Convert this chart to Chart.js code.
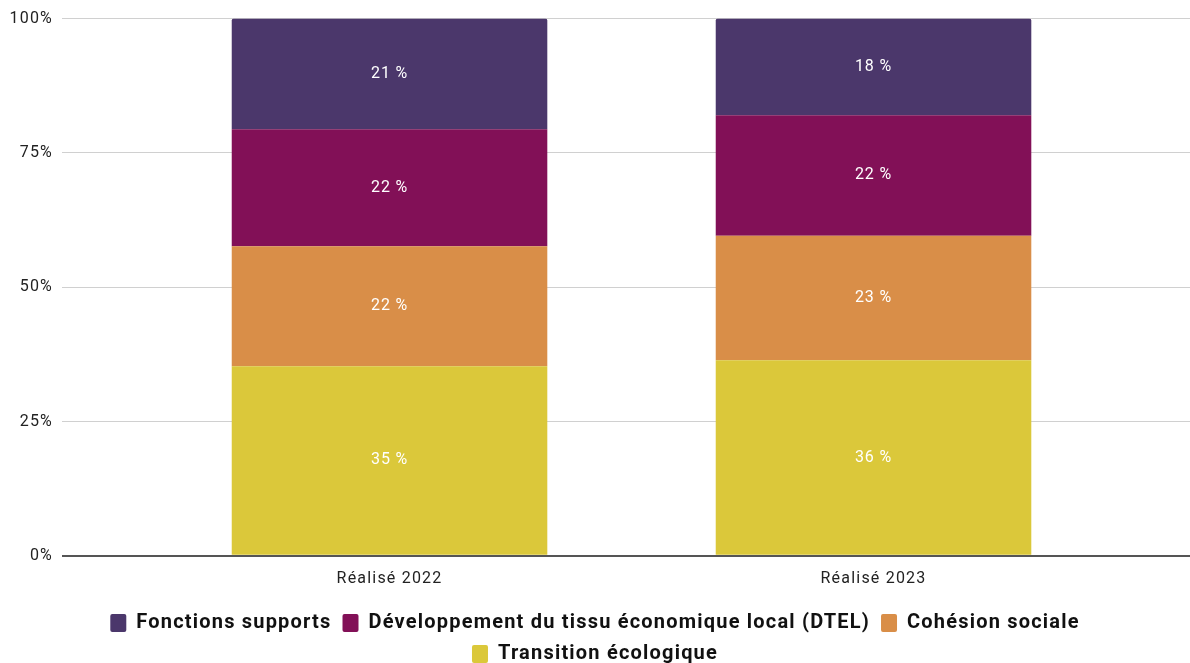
<!DOCTYPE html>
<html lang="fr">
<head>
<meta charset="utf-8">
<title>Répartition par axe – Réalisé 2022 / 2023</title>
<script src="https://cdn.jsdelivr.net/npm/chart.js@4.4.1/dist/chart.umd.min.js"></script>
<style>
  html, body { margin: 0; padding: 0; background: #ffffff; }
  #wrap { width: 1190px; height: 663px; position: relative; }
</style>
</head>
<body>
<div id="wrap"><canvas id="chart"></canvas></div>
<script>
// Catégories (colonnes) et répartition en % par axe
const categories = ['Réalisé 2022', 'Réalisé 2023'];
const seriesNames = [
  'Fonctions supports',
  'Développement du tissu économique local (DTEL)',
  'Cohésion sociale',
  'Transition écologique'
];
const transitionEcologique = [35.3, 36.4];
const cohesionSociale = [22.3, 23.2];
const dtel = [21.8, 22.4];
const fonctionsSupports = [20.6, 18.0];
const yTicks = [0, 25, 50, 75, 100];

const colors = {
  supports: '#4b376b',
  dtel: '#821057',
  cohesion: '#d98e48',
  transition: '#dbc83a'
};

const FONT = 'Roboto, "Liberation Sans", sans-serif';
const toPoints = arr => arr.map((v, i) => ({ x: i, y: v }));

// Espacement des lettres un peu plus large pour tous les textes du graphique
const spacedText = {
  id: 'spacedText',
  beforeLayout(chart) { chart.ctx.letterSpacing = '1.2px'; },
  beforeDraw(chart) { chart.ctx.letterSpacing = '1.2px'; }
};

// Étiquettes de valeur centrées dans chaque segment
const segmentLabels = {
  id: 'segmentLabels',
  afterDatasetsDraw(chart) {
    const ctx = chart.ctx;
    ctx.save();
    ctx.letterSpacing = '0.8px';
    ctx.font = '16px ' + FONT;
    ctx.fillStyle = '#ffffff';
    ctx.textAlign = 'center';
    ctx.textBaseline = 'middle';
    chart.data.datasets.forEach((ds, di) => {
      const meta = chart.getDatasetMeta(di);
      if (meta.hidden) return;
      meta.data.forEach((bar, i) => {
        const v = ds.data[i].y;
        const c = bar.getCenterPoint();
        ctx.fillText(Math.round(v) + ' %', c.x, c.y);
      });
    });
    ctx.restore();
  }
};

const datasets = [
  { label: seriesNames[3], data: toPoints(transitionEcologique), backgroundColor: colors.transition },
  { label: seriesNames[2], data: toPoints(cohesionSociale), backgroundColor: colors.cohesion },
  { label: seriesNames[1], data: toPoints(dtel), backgroundColor: colors.dtel },
  { label: seriesNames[0], data: toPoints(fonctionsSupports), backgroundColor: colors.supports,
    borderRadius: { topLeft: 2, topRight: 2, bottomLeft: 0, bottomRight: 0 }, borderSkipped: false }
];

new Chart(document.getElementById('chart'), {
  type: 'bar',
  data: { datasets },
  options: {
    responsive: true,
    maintainAspectRatio: false,
    animation: false,
    layout: { padding: { top: 14.5, right: 0, bottom: -11, left: 0 } },
    datasets: { bar: { barPercentage: 0.652, categoryPercentage: 1 } },
    scales: {
      x: {
        type: 'linear',
        stacked: true,
        min: -0.6767,
        max: 1.6539,
        offset: false,
        grid: { display: false },
        border: { display: false },
        afterFit: s => { s.height += 7; },
        ticks: {
          stepSize: 1,
          includeBounds: false,
          autoSkip: false,
          maxRotation: 0,
          padding: 6,
          color: '#222222',
          font: { family: FONT, size: 16 },
          callback: v => (categories[v] !== undefined ? categories[v] : '')
        }
      },
      y: {
        stacked: true,
        min: 0,
        max: 100,
        afterBuildTicks: s => { s.ticks = yTicks.map(v => ({ value: v })); },
        afterFit: s => { s.width = 62; },
        border: { display: false },
        grid: {
          drawTicks: false,
          color: c => (c.tick && c.tick.value === 0 ? '#555555' : '#d0d0d0'),
          lineWidth: c => (c.tick && c.tick.value === 0 ? 2 : 1)
        },
        ticks: {
          padding: 9,
          color: '#222222',
          font: { family: FONT, size: 16 },
          callback: v => v + '%'
        }
      }
    },
    plugins: {
      tooltip: { enabled: false },
      legend: {
        position: 'bottom',
        reverse: true,
        labels: {
          boxWidth: 16,
          boxHeight: 18,
          padding: 11,
          useBorderRadius: true,
          borderRadius: 2,
          color: '#111111',
          font: { family: FONT, size: 20, weight: 'bold' }
        }
      }
    }
  },
  plugins: [spacedText, segmentLabels]
});
</script>
</body>
</html>
